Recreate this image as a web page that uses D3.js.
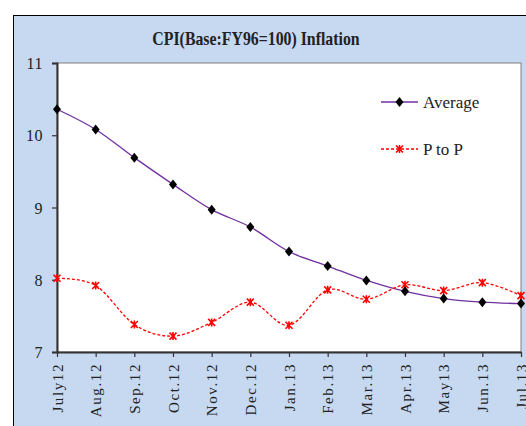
<!DOCTYPE html>
<html>
<head>
<script src="https://d3js.org/d3.v7.min.js"></script>
<style>
  body { margin: 0; background: #fff; }
  text { font-family: "Liberation Serif", "Times New Roman", serif; fill: #222; }
</style>
</head>
<body>
<script>
// chart data
var months = ["July12", "Aug.12", "Sep.12", "Oct.12", "Nov.12", "Dec.12", "Jan.13",
              "Feb.13", "Mar.13", "Apr.13", "May13", "Jun.13", "Jul.13"];
var average = [10.36, 10.08, 9.69, 9.32, 8.97, 8.73, 8.39, 8.19, 7.99, 7.84, 7.74, 7.69, 7.67];
var pToP = [8.02, 7.92, 7.38, 7.22, 7.41, 7.69, 7.37, 7.86, 7.73, 7.93, 7.85, 7.96, 7.78];
var yTicks = [7, 8, 9, 10, 11];

var W = 526, H = 426;
var svg = d3.select("body").append("svg").attr("width", W).attr("height", H);

// blue frame
svg.append("rect").attr("x", 13.5).attr("y", 15.5).attr("width", W).attr("height", H)
  .attr("fill", "#c6d9f1").attr("stroke", "#000").attr("stroke-width", 1);

var pLeft = 57, pRight = 521, pTop = 63, pBottom = 352;

var x = d3.scalePoint().domain(months).range([pLeft, pRight]);
var y = d3.scaleLinear().domain([7, 11]).range([pBottom, pTop]);

// plot area
svg.append("rect").attr("x", pLeft).attr("y", pTop)
  .attr("width", pRight - pLeft).attr("height", pBottom - pTop)
  .attr("fill", "#fff").attr("stroke", "#808080").attr("stroke-width", 1);

svg.append("text").attr("x", 256).attr("y", 45).attr("text-anchor", "middle")
  .style("font-size", "18px").style("font-weight", "bold")
  .attr("transform", "translate(256,0) scale(0.88,1) translate(-256,0)")
  .text("CPI(Base:FY96=100) Inflation");

// axes
var yAxis = svg.append("g").attr("transform", "translate(" + pLeft + ",0)")
  .call(d3.axisLeft(y).tickValues(yTicks).tickSize(5).tickPadding(9).tickFormat(d3.format("d")));
var xAxis = svg.append("g").attr("transform", "translate(0," + pBottom + ")")
  .call(d3.axisBottom(x).tickSize(5).tickSizeOuter(0));
[yAxis, xAxis].forEach(function(g) {
  g.select(".domain").attr("stroke", "#333").attr("stroke-width", 2);
  g.selectAll(".tick line").attr("stroke", "#333").attr("stroke-width", 1.2);
  g.selectAll("text").style("font-family", "Liberation Serif").style("font-size", "16px").attr("fill", "#222");
});
yAxis.selectAll("text").attr("dy", "0.35em").style("letter-spacing", "0.5px");
xAxis.selectAll("text")
  .attr("transform", "rotate(-90)")
  .attr("text-anchor", "end")
  .attr("x", -11).attr("y", 0).attr("dy", "0.35em")
  .style("font-size", "15px").style("letter-spacing", "1.6px");

var curve = d3.curveCatmullRom.alpha(0);
var line = d3.line().x(function(d, i) { return x(months[i]); }).y(function(d) { return y(d); }).curve(curve);

// Average
svg.append("path").datum(average)
  .attr("fill", "none").attr("stroke", "#7030a0").attr("stroke-width", 1.3)
  .attr("d", line);

// P to P
svg.append("path").datum(pToP)
  .attr("fill", "none").attr("stroke", "#ff0000").attr("stroke-width", 1.3)
  .attr("stroke-dasharray", "3,2")
  .attr("d", line);

function diamond(g, cx, cy) {
  g.append("path").attr("d", "M" + cx + "," + (cy - 5) + "L" + (cx + 4) + "," + cy + "L" + cx + "," + (cy + 5) + "L" + (cx - 4) + "," + cy + "Z")
    .attr("fill", "#000");
}
function star(g, cx, cy) {
  var s = 3.5;
  g.append("path")
    .attr("d", "M" + (cx - s) + "," + (cy - s) + "L" + (cx + s) + "," + (cy + s) +
               "M" + (cx - s) + "," + (cy + s) + "L" + (cx + s) + "," + (cy - s) +
               "M" + cx + "," + (cy - s - 0.5) + "L" + cx + "," + (cy + s + 0.5))
    .attr("stroke", "#ff0000").attr("stroke-width", 1.6).attr("fill", "none");
}

var marks = svg.append("g");
pToP.forEach(function(d, i) { star(marks, x(months[i]), y(d)); });
average.forEach(function(d, i) { diamond(marks, x(months[i]), y(d)); });

// legend
var lg = svg.append("g");
lg.append("line").attr("x1", 381).attr("x2", 418).attr("y1", 102).attr("y2", 102)
  .attr("stroke", "#7030a0").attr("stroke-width", 1.3);
diamond(lg, 399.5, 102);
lg.append("text").attr("x", 423).attr("y", 108).style("font-size", "17px").text("Average");

lg.append("line").attr("x1", 381).attr("x2", 418).attr("y1", 149).attr("y2", 149)
  .attr("stroke", "#ff0000").attr("stroke-width", 1.3).attr("stroke-dasharray", "3,2");
star(lg, 399.5, 149);
lg.append("text").attr("x", 423).attr("y", 155).style("font-size", "17px").text("P to P");
</script>
</body>
</html>
